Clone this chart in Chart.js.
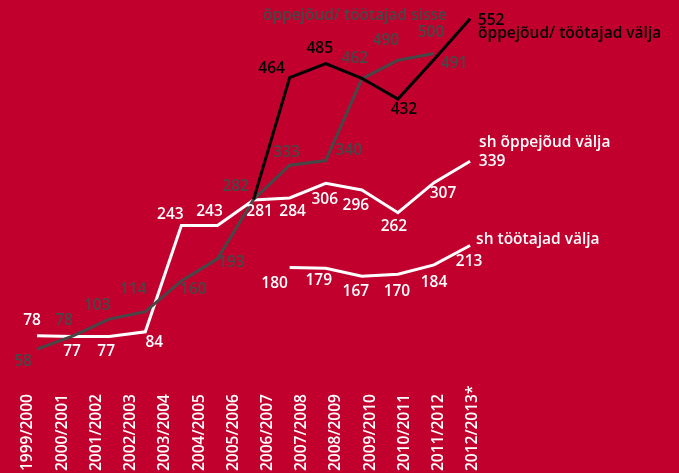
<!DOCTYPE html>
<html>
<head>
<meta charset="utf-8">
<script src="https://cdn.jsdelivr.net/npm/chart.js@4.4.1/dist/chart.umd.min.js"></script>
<style>
  html, body { margin: 0; padding: 0; background: #c1002e; }
  #wrap { width: 679px; height: 473px; }
</style>
</head>
<body>
<div id="wrap"><canvas id="chart" width="679" height="473"></canvas></div>
<script>
// Year labels on the x axis
const years = ['1999/2000', '2000/2001', '2001/2002', '2002/2003', '2003/2004', '2004/2005', '2005/2006',
  '2006/2007', '2007/2008', '2008/2009', '2009/2010', '2010/2011', '2011/2012', '2012/2013*'];

// the plotted points belong to these years
const pointYears = years.slice(1);

// õppejõud/ töötajad välja (total leaving)
const valjaKokku = [null, null, null, null, null, null, 282, 464, 485, 463, 432, 491, 552];
// õppejõud/ töötajad sisse (coming in)
const sisse = [58, 78, 103, 114, 160, 193, 282, 333, 340, 462, 490, 500, null];
// sh õppejõud välja
const oppejoudValja = [78, 77, 77, 84, 243, 243, 281, 284, 306, 296, 262, 307, 339];
// sh töötajad välja
const tootajadValja = [null, null, null, null, null, null, null, 180, 179, 167, 170, 184, 213];

const GREY = '#474747';
const FONT = '600 15.5px "Open Sans"';

function toPoints(values) {
  return pointYears.map((y, j) => ({ x: years.indexOf(y), y: values[j] }));
}

// where each value label sits relative to its point (null = no label)
const blackLabelPos = [null, null, null, null, null, null, null, [-18, -9], [-6, -15], null, [6, 11], [20, 4], [21, 2]];
const blackLabelColor = [null, null, null, null, null, null, null, null, null, null, null, GREY, null];
const greyLabelPos = [[-14, 12], [-9, -15], [-12, -14], [-12, -22], [12, 9], [14, 4], [-18, -13], [-3, -13], [23, -10], [-7, -20], [-12, -20], [-3, -21], null];
const white1LabelPos = [[-5, -15], [-1, 15], [-3, 15], [9, 11], [-11, -11], [-8, -14], [6, 12], [3, 14], [-1, 16], [-6, 16], [-4, 14], [9, 11], [22, 0]];
const white2LabelPos = [null, null, null, null, null, null, null, [-15, 16], [-7, 12], [-6, 15], [-1, 17], [0, 18], [-1, 16]];

const valueLabels = {
  id: 'valueLabels',
  afterDatasetsDraw(chart) {
    const ctx = chart.ctx;
    ctx.save();
    ctx.font = FONT;
    ctx.textBaseline = 'middle';
    chart.data.datasets.forEach((ds, i) => {
      const meta = chart.getDatasetMeta(i);
      let last = null;
      meta.data.forEach((pt, j) => {
        const v = ds.data[j].y;
        if (v == null) return;
        last = pt;
        const off = ds.labelPos[j];
        if (!off) return;
        ctx.textAlign = 'center';
        ctx.fillStyle = (ds.labelColor && ds.labelColor[j]) || ds.borderColor;
        ctx.fillText(String(v), pt.x + off[0], pt.y + off[1]);
      });
      // series name next to the end of the line
      if (last) {
        ctx.textAlign = ds.nameAlign;
        ctx.fillStyle = ds.borderColor;
        ctx.fillText(ds.label, last.x + ds.namePos[0], last.y + ds.namePos[1]);
      }
    });
    ctx.restore();
  }
};

// rotated year labels, aligned at the bottom
const yearLabels = {
  id: 'yearLabels',
  afterDraw(chart) {
    const sc = chart.scales.x;
    const ctx = chart.ctx;
    ctx.save();
    ctx.font = FONT;
    ctx.fillStyle = '#ffffff';
    ctx.textAlign = 'left';
    ctx.textBaseline = 'middle';
    years.forEach((y, i) => {
      ctx.save();
      ctx.translate(sc.getPixelForValue(i), chart.height - 2);
      ctx.rotate(-Math.PI / 2);
      ctx.fillText(y, 0, 0);
      ctx.restore();
    });
    ctx.restore();
  }
};

const lineStyle = {
  borderWidth: 3,
  pointRadius: 0,
  tension: 0,
  borderJoinStyle: 'miter',
  fill: false,
  spanGaps: false,
  xAxisID: 'xd',
  yAxisID: 'y'
};

new Chart(document.getElementById('chart'), {
  type: 'line',
  data: {
    labels: years,
    datasets: [
      Object.assign({
        label: 'õppejõud/ töötajad välja',
        data: toPoints(valjaKokku),
        borderColor: '#000000',
        labelPos: blackLabelPos,
        labelColor: blackLabelColor,
        namePos: [8, 15],
        nameAlign: 'left'
      }, lineStyle),
      Object.assign({
        label: 'õppejõud/ töötajad sisse',
        data: toPoints(sisse),
        borderColor: GREY,
        labelPos: greyLabelPos,
        namePos: [13, -38],
        nameAlign: 'right'
      }, lineStyle),
      Object.assign({
        label: 'sh õppejõud välja',
        data: toPoints(oppejoudValja),
        borderColor: '#ffffff',
        labelPos: white1LabelPos,
        namePos: [9, -19],
        nameAlign: 'left'
      }, lineStyle),
      Object.assign({
        label: 'sh töötajad välja',
        data: toPoints(tootajadValja),
        borderColor: '#ffffff',
        labelPos: white2LabelPos,
        namePos: [6, -6],
        nameAlign: 'left'
      }, lineStyle)
    ]
  },
  options: {
    responsive: false,
    devicePixelRatio: 1,
    animation: false,
    layout: { padding: { left: 28, right: 206, top: 10, bottom: 85 } },
    plugins: {
      legend: { display: false },
      tooltip: { enabled: false }
    },
    scales: {
      x: { type: 'category', display: false, offset: false },
      xd: { type: 'linear', display: false, min: 0.75, max: 13.08 },
      y: { type: 'linear', display: false, min: 0, max: 565 }
    }
  },
  plugins: [valueLabels, yearLabels]
});
</script>
</body>
</html>
